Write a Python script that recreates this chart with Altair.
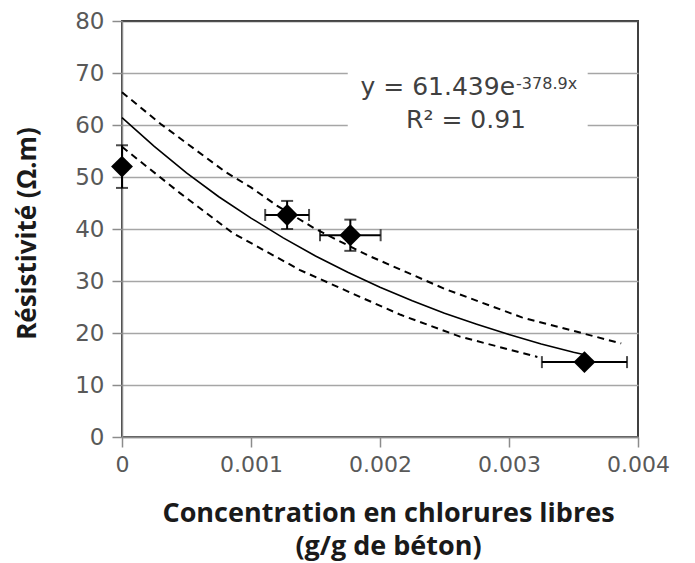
import altair as alt
import pandas as pd

# measured points
pt_x = [0.0, 0.00128, 0.00177, 0.003585]
pt_y = [52.0, 42.7, 38.8, 14.4]
pt_xerr = [0.0, 0.00017, 0.000235, 0.00033]
pt_yerr = [4.1, 2.7, 3.0, 0.0]

# fitted curve
fit_x = [0, 0.00025, 0.0005, 0.00075, 0.001, 0.00125, 0.0015, 0.00175, 0.002,
         0.00225, 0.0025, 0.00275, 0.003, 0.00325, 0.0035, 0.00357]
fit_y = [61.4, 55.9, 50.8, 46.2, 42.1, 38.3, 34.8, 31.7, 28.8,
         26.2, 23.8, 21.7, 19.7, 17.9, 16.3, 15.9]

# upper / lower dashed bounds
up_x = [0, 0.0003, 0.0008, 0.001, 0.0012, 0.0015, 0.0019, 0.0025, 0.0031, 0.00387]
up_y = [66.3, 60.2, 51.0, 48.0, 44.5, 40.0, 35.0, 28.5, 23.0, 18.0]
lo_x = [0, 0.00045, 0.00086, 0.00138, 0.00184, 0.00216, 0.00262, 0.00322]
lo_y = [55.8, 46.9, 39.2, 32.1, 27.0, 23.5, 19.3, 15.4]

x_ticks = [0, 0.001, 0.002, 0.003, 0.004]
y_ticks = [0, 10, 20, 30, 40, 50, 60, 70, 80]

eq_main = "y = 61.439e"
eq_exp = "-378.9x"
r2_text = "R² = 0.91"

pts = pd.DataFrame({"x": pt_x, "y": pt_y, "xe": pt_xerr, "ye": pt_yerr})
pts["xlo"] = pts.x - pts.xe
pts["xhi"] = pts.x + pts.xe
pts["ylo"] = pts.y - pts.ye
pts["yhi"] = pts.y + pts.ye

fit = pd.DataFrame({"x": fit_x, "y": fit_y})
up = pd.DataFrame({"x": up_x, "y": up_y})
lo = pd.DataFrame({"x": lo_x, "y": lo_y})

LBL = "DejaVu Sans"
TTL = "Open Sans"

xs = alt.Scale(domain=[0, 0.004], nice=False, zero=False)
ys = alt.Scale(domain=[0, 80], nice=False)

xaxis = alt.Axis(values=x_ticks, format="~g", grid=False, tickSize=10, tickColor="#8c8c8c",
                 tickWidth=1.5, domainColor="#8c8c8c", domainWidth=1.5,
                 labelFont=LBL, labelFontSize=22, labelColor="#595959", labelPadding=7,
                 labelFlush=False,
                 title=["Concentration en chlorures libres", "(g/g de béton)"],
                 titleFont=TTL, titleFontSize=27, titleFontWeight="bold", titleColor="#1a1a1a",
                 titleX=266, titleY=84, titleAlign="center", titleBaseline="alphabetic",
                 titleLineHeight=33)
yaxis = alt.Axis(values=y_ticks, grid=True,
                 gridColor=alt.condition("datum.value === 80", alt.value("#505050"), alt.value("#a6a6a6")),
                 gridWidth=1.5, tickSize=10, tickColor="#8c8c8c", tickWidth=1.5,
                 domainColor="#8c8c8c", domainWidth=1.5,
                 labelFont=LBL, labelFontSize=23, labelColor="#595959", labelPadding=8,
                 title="Résistivité (Ω.m)", titleFont=TTL, titleFontSize=26, titleFontWeight="bold",
                 titleColor="#1a1a1a", titleAngle=270, titleX=-95, titleY=212,
                 titleAlign="center", titleBaseline="middle")

base_x = alt.X("x:Q", scale=xs, axis=xaxis)
base_y = alt.Y("y:Q", scale=ys, axis=yaxis)

fit_line = alt.Chart(fit).mark_line(color="black", strokeWidth=1.6).encode(x=base_x, y=base_y)
up_line = alt.Chart(up).mark_line(color="black", strokeWidth=2, strokeDash=[7, 5]).encode(
    x=alt.X("x:Q", scale=xs), y=alt.Y("y:Q", scale=ys))
lo_line = alt.Chart(lo).mark_line(color="black", strokeWidth=2, strokeDash=[7, 5]).encode(
    x=alt.X("x:Q", scale=xs), y=alt.Y("y:Q", scale=ys))

xbar = alt.Chart(pts).transform_filter("datum.xe > 0").mark_rule(color="black", strokeWidth=2).encode(
    x=alt.X("xlo:Q", scale=xs), x2="xhi:Q", y=alt.Y("y:Q", scale=ys))
ybar = alt.Chart(pts).transform_filter("datum.ye > 0").mark_rule(color="black", strokeWidth=2).encode(
    x=alt.X("x:Q", scale=xs), y=alt.Y("ylo:Q", scale=ys), y2="yhi:Q")
xcap_lo = alt.Chart(pts).transform_filter("datum.xe > 0").mark_tick(
    color="black", thickness=2, size=12, orient="vertical").encode(
    x=alt.X("xlo:Q", scale=xs), y=alt.Y("y:Q", scale=ys))
xcap_hi = alt.Chart(pts).transform_filter("datum.xe > 0").mark_tick(
    color="black", thickness=2, size=12, orient="vertical").encode(
    x=alt.X("xhi:Q", scale=xs), y=alt.Y("y:Q", scale=ys))
ycap_lo = alt.Chart(pts).transform_filter("datum.ye > 0").mark_tick(
    color="black", thickness=2, size=12, orient="horizontal").encode(
    x=alt.X("x:Q", scale=xs), y=alt.Y("ylo:Q", scale=ys))
ycap_hi = alt.Chart(pts).transform_filter("datum.ye > 0").mark_tick(
    color="black", thickness=2, size=12, orient="horizontal").encode(
    x=alt.X("x:Q", scale=xs), y=alt.Y("yhi:Q", scale=ys))

points = alt.Chart(pts).mark_point(shape="diamond", filled=True, color="black", size=480, opacity=1).encode(
    x=alt.X("x:Q", scale=xs), y=alt.Y("y:Q", scale=ys))

box = alt.Chart(pd.DataFrame({"a": [0]})).mark_rect(color="white").encode(
    x=alt.datum(0.00175, scale=xs), x2=alt.datum(0.00361),
    y=alt.datum(57.5, scale=ys), y2=alt.datum(72.5))

t_main = alt.Chart(pd.DataFrame({"t": [eq_main]})).mark_text(
    font=LBL, fontSize=25, color="#404040", align="right", baseline="alphabetic").encode(
    x=alt.datum(0.003047, scale=xs), y=alt.datum(65.8, scale=ys), text="t:N")
t_exp = alt.Chart(pd.DataFrame({"t": [eq_exp]})).mark_text(
    font=LBL, fontSize=16, color="#404040", align="left", baseline="alphabetic").encode(
    x=alt.datum(0.003055, scale=xs), y=alt.datum(67.0, scale=ys), text="t:N")
t_r2 = alt.Chart(pd.DataFrame({"t": [r2_text]})).mark_text(
    font=LBL, fontSize=25, color="#404040", align="center", baseline="alphabetic").encode(
    x=alt.datum(0.002667, scale=xs), y=alt.datum(59.4, scale=ys), text="t:N")

chart = alt.layer(
    fit_line, box, up_line, lo_line, xbar, ybar, xcap_lo, xcap_hi, ycap_lo, ycap_hi, points,
    t_main, t_exp, t_r2
).properties(
    width=516, height=416,
    autosize=alt.AutoSizeParams(type="none"),
    padding={"left": 114, "top": 13, "right": 40, "bottom": 125},
).configure_view(stroke="#404040", strokeWidth=2)

chart.save("out.html", embed_options={"renderer": "svg", "actions": False})
